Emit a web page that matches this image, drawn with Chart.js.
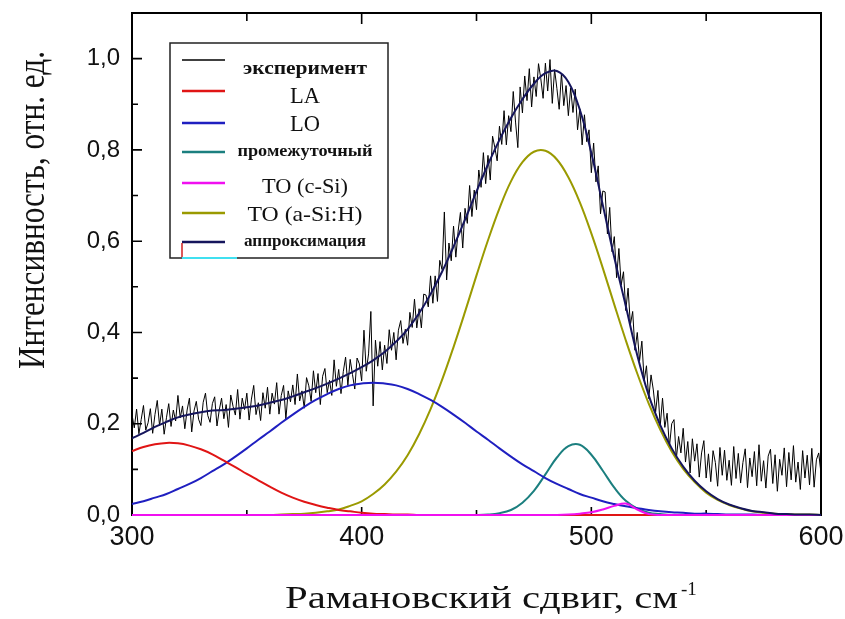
<!DOCTYPE html>
<html>
<head>
<meta charset="utf-8">
<script src="https://cdn.jsdelivr.net/npm/chart.js@4.4.0/dist/chart.umd.min.js"></script>
<style>
html, body { margin: 0; padding: 0; background: #fff; }
canvas { display: block; }
</style>
</head>
<body>
<canvas id="chart" width="845" height="619"></canvas>
<script>
// сетка для подгоночных кривых, см-1
const fitX = [300,305,310,315,320,325,330,335,340,345,350,355,360,365,370,375,380,385,390,395,
              400,405,410,415,420,425,430,435,440,445,450,455,460,465,470,475,480,485,490,495,
              500,505,510,515,520,525,530,535,540,545,550,555,560,565,570,575,580,585,590,595,600]

const laY = [0.140,0.149,0.155,0.158,0.157,0.152,0.144,0.133,0.119,0.105,0.090,0.076,0.062,0.049,0.038,0.029,0.022,0.016,0.011,0.008,
             0.005,0.003,0.002,0.001,0.001,0,0,0,0,0,0,0,0,0,0,0,0,0,0,0,
             0,0,0,0,0,0,0,0,0,0,0,0,0,0,0,0,0,0,0,0,0]

const loY = [0.024,0.030,0.038,0.046,0.057,0.068,0.081,0.096,0.111,0.128,0.146,0.165,0.183,0.202,0.220,0.237,0.252,0.265,0.276,0.284,
             0.288,0.290,0.288,0.284,0.276,0.265,0.252,0.237,0.220,0.202,0.183,0.165,0.146,0.128,0.111,0.096,0.081,0.068,0.057,0.046,
             0.038,0.030,0.024,0.019,0.015,0.011,0.008,0.006,0.005,0.003,0.003,0.002,0.001,0.001,0.001,0,0,0,0,0,0]

const interY = [0,0,0,0,0,0,0,0,0,0,0,0,0,0,0,0,0,0,0,0,
                0,0,0,0,0,0,0,0,0,0.000,0.000,0.001,0.004,0.011,0.027,0.053,0.089,0.126,0.151,0.154,
                0.132,0.097,0.060,0.031,0.014,0.005,0.002,0.000,0,0,0,0,0,0,0,0,0,0,0,0,0]

const toCY = [0,0,0,0,0,0,0,0,0,0,0,0,0,0,0,0,0,0,0,0,
              0,0,0,0,0,0,0,0,0,0,0,0,0,0,0,0,0,0,0.001,0.003,
              0.006,0.012,0.020,0.025,0.012,0.002,0,0,0,0,0,0,0,0,0,0,0,0,0,0,0]

const toAY = [0,0,0,0,0,0,0,0,0,0,0,0,0.000,0.001,0.002,0.003,0.005,0.008,0.012,0.020,
              0.030,0.046,0.067,0.095,0.131,0.177,0.232,0.296,0.368,0.445,0.525,0.602,0.672,0.731,0.773,0.796,0.798,0.779,0.740,0.685,
              0.617,0.541,0.461,0.383,0.310,0.244,0.187,0.139,0.101,0.072,0.049,0.033,0.022,0.014,0.008,0.005,0.003,0.002,0.001,0.001,0.000]

const sumY = [0.168,0.180,0.193,0.204,0.214,0.220,0.225,0.229,0.230,0.233,0.236,0.240,0.246,0.252,0.260,0.269,0.278,0.288,0.299,0.311,
              0.324,0.339,0.357,0.380,0.407,0.442,0.484,0.533,0.588,0.647,0.709,0.768,0.822,0.870,0.911,0.945,0.968,0.973,0.949,0.888,
              0.793,0.679,0.564,0.458,0.350,0.262,0.197,0.146,0.106,0.075,0.052,0.035,0.023,0.015,0.009,0.006,0.003,0.002,0.001,0.001,0.000]

// эксперимент: шаг 1 см-1, начиная с 300
const expStart = 300
const expY = [
  0.220,0.191,0.232,0.178,0.209,0.240,0.186,0.202,0.233,0.179,
  0.220,0.251,0.196,0.232,0.177,0.213,0.244,0.194,0.230,0.206,
  0.262,0.213,0.239,0.189,0.230,0.256,0.182,0.228,0.249,0.210,
  0.196,0.247,0.267,0.218,0.203,0.244,0.259,0.195,0.230,0.256,
  0.211,0.242,0.192,0.263,0.238,0.219,0.275,0.210,0.256,0.231,
  0.267,0.208,0.254,0.284,0.220,0.246,0.207,0.268,0.234,0.280,
  0.221,0.267,0.243,0.290,0.221,0.262,0.284,0.210,0.272,0.248,
  0.285,0.242,0.309,0.250,0.272,0.234,0.301,0.283,0.249,0.316,
  0.268,0.310,0.242,0.304,0.321,0.268,0.295,0.262,0.340,0.282,
  0.319,0.266,0.314,0.346,0.284,0.341,0.308,0.276,0.344,0.331,
  0.294,0.405,0.315,0.353,0.446,0.239,0.383,0.326,0.380,0.318,
  0.372,0.332,0.406,0.361,0.400,0.340,0.405,0.426,0.376,0.407,
  0.372,0.444,0.411,0.473,0.410,0.452,0.410,0.484,0.482,0.456,
  0.524,0.464,0.524,0.468,0.558,0.538,0.664,0.515,0.596,0.557,
  0.633,0.565,0.622,0.663,0.585,0.672,0.639,0.722,0.654,0.712,
  0.669,0.756,0.718,0.794,0.726,0.788,0.734,0.830,0.805,0.776,
  0.852,0.812,0.886,0.811,0.875,0.840,0.928,0.861,0.805,0.938,
  0.881,0.962,0.908,0.978,0.894,0.960,0.917,0.989,0.956,0.913,
  0.990,0.929,0.998,0.902,0.976,0.935,0.889,0.968,0.897,0.941,
  0.875,0.936,0.882,0.933,0.844,0.890,0.811,0.877,0.818,0.844,
  0.750,0.815,0.730,0.765,0.660,0.710,0.708,0.616,0.674,0.577,
  0.610,0.520,0.584,0.504,0.533,0.448,0.497,0.417,0.446,0.361,
  0.400,0.338,0.381,0.294,0.327,0.255,0.307,0.274,0.226,0.273,
  0.195,0.256,0.192,0.223,0.149,0.200,0.209,0.123,0.172,0.136,
  0.190,0.116,0.161,0.092,0.167,0.118,0.156,0.083,0.136,0.163,
  0.081,0.134,0.073,0.141,0.115,0.063,0.148,0.087,0.142,0.076,
  0.120,0.065,0.150,0.080,0.135,0.070,0.115,0.145,0.060,0.125,
  0.084,0.139,0.064,0.154,0.074,0.119,0.059,0.129,0.144,0.069,
  0.132,0.052,0.122,0.087,0.147,0.062,0.137,0.077,0.152,0.072,
  0.116,0.056,0.141,0.081,0.131,0.066,0.146,0.061,0.121,0.136,
  0.091]

const legendLabels = ['эксперимент', 'LA', 'LO', 'промежуточный', 'TO (c-Si)', 'TO (a-Si:H)', 'аппроксимация']
const colors = ['#000000', '#e01515', '#1f1fc0', '#1b7f7f', '#f010f0', '#9a9a00', '#15155c']

const xMajorTicks = [300, 400, 500, 600]
const xMinorTicks = [350, 450, 550]
const yMajorTicks = [0, 0.2, 0.4, 0.6, 0.8, 1.0]
const yMinorTicks = [0.1, 0.3, 0.5, 0.7, 0.9]

const serif = "'Liberation Serif', 'Times New Roman', serif"
const sans = "'Liberation Sans', Arial, sans-serif"

function pts(ys){
    return fitX.map((x, i) => ({x: x, y: ys[i]}))
}
const expPts = expY.map((v, i) => ({x: expStart + i, y: v}))

function curve(idx, ys, order){
    return {
        label: legendLabels[idx],
        data: pts(ys),
        borderColor: colors[idx],
        borderWidth: 2,
        pointRadius: 0,
        tension: 0.4,
        clip: 4,
        order: order
    }
}

// рамка, засечки, легенда и подписи осей
const decor = {
    id: 'decor',
    beforeDatasetsDraw(chart){
        const {ctx, chartArea: a, scales: {x, y}} = chart
        ctx.save()
        ctx.strokeStyle = '#000'
        ctx.lineWidth = 2
        ctx.strokeRect(a.left, a.top, a.right - a.left, a.bottom - a.top)
        ctx.lineWidth = 1.6
        ctx.beginPath()
        xMajorTicks.concat(xMinorTicks).forEach(v => {
            let px = x.getPixelForValue(v)
            let major = xMajorTicks.includes(v)
            ctx.moveTo(px, a.bottom); ctx.lineTo(px, a.bottom - (major ? 8 : 5))
            ctx.moveTo(px, a.top); ctx.lineTo(px, a.top + (major ? 11 : 8))
        })
        yMajorTicks.concat(yMinorTicks).forEach(v => {
            let py = y.getPixelForValue(v)
            let major = yMajorTicks.includes(v)
            ctx.moveTo(a.left, py); ctx.lineTo(a.left + (major ? 10 : 6), py)
        })
        ctx.stroke()
        ctx.restore()
    },
    afterDraw(chart){
        const ctx = chart.ctx
        ctx.save()

        // легенда
        ctx.fillStyle = '#fff'
        ctx.fillRect(170, 43, 218, 215)
        ctx.strokeStyle = '#222'
        ctx.lineWidth = 1.5
        ctx.strokeRect(170, 43, 218, 215)

        const lineY = [60, 91, 123, 152, 183, 213, 242]
        const textY = [69, 97, 125, 152, 187, 215, 242]
        const fonts = ['bold 18px ', '23px ', '23px ', 'bold 16px ', '22px ', '22px ', 'bold 17px ']
        const widths = [124, 30, 30, 135, 86, 115, 122]
        legendLabels.forEach((lbl, i) => {
            ctx.strokeStyle = colors[i]
            ctx.lineWidth = i == 0 ? 1.5 : 2.5
            ctx.beginPath()
            ctx.moveTo(182, lineY[i]); ctx.lineTo(225, lineY[i])
            ctx.stroke()

            ctx.font = fonts[i] + serif
            ctx.fillStyle = '#111'
            ctx.textAlign = 'center'
            ctx.textBaseline = 'middle'
            let w = ctx.measureText(lbl).width
            ctx.save()
            ctx.translate(305, textY[i])
            ctx.scale(widths[i] / w, 1)
            ctx.fillText(lbl, 0, 0)
            ctx.restore()
        })
        // следы под легендой, как на оригинале
        ctx.strokeStyle = '#d02020'
        ctx.lineWidth = 1.5
        ctx.beginPath(); ctx.moveTo(182, 243); ctx.lineTo(182, 257); ctx.stroke()
        ctx.strokeStyle = '#40e0f0'
        ctx.lineWidth = 2
        ctx.beginPath(); ctx.moveTo(182, 258); ctx.lineTo(237, 258); ctx.stroke()

        // подпись оси X
        ctx.fillStyle = '#111'
        ctx.textAlign = 'left'
        ctx.textBaseline = 'alphabetic'
        ctx.font = '31px ' + serif
        let t = 'Рамановский сдвиг, см'
        let w = ctx.measureText(t).width
        ctx.save()
        ctx.translate(285, 608)
        ctx.scale(393 / w, 1)
        ctx.fillText(t, 0, 0)
        ctx.restore()
        ctx.font = '19px ' + serif
        ctx.fillText('-1', 681, 595)

        // подпись оси Y
        ctx.font = '32px ' + serif
        ctx.textAlign = 'center'
        ctx.save()
        ctx.translate(44, 210)
        ctx.rotate(-Math.PI / 2)
        ctx.scale(1, 1.18)
        ctx.fillText('Интенсивность, отн. ед.', 0, 0, 318)
        ctx.restore()

        ctx.restore()
    }
}

let ctx = document.getElementById('chart').getContext('2d')
let chart = new Chart(ctx, {
    type: 'line',
    data: {
        datasets: [
            {
                label: legendLabels[0],
                data: expPts,
                borderColor: colors[0],
                borderWidth: 1,
                pointRadius: 0,
                tension: 0,
                order: 6
            },
            curve(1, laY, 2),
            curve(2, loY, 3),
            curve(3, interY, 4),
            curve(4, toCY, 1),
            curve(5, toAY, 5),
            curve(6, sumY, 0)
        ]
    },
    options: {
        responsive: false,
        devicePixelRatio: 1,
        animation: false,
        layout: {padding: {top: 13, right: 24, left: 0, bottom: 0}},
        scales: {
            x: {
                type: 'linear',
                min: 300,
                max: 600,
                ticks: {
                    stepSize: 100,
                    padding: 6,
                    maxRotation: 0,
                    color: '#111',
                    font: {family: sans, size: 27}
                },
                grid: {display: false, drawTicks: false},
                border: {display: false},
                afterFit: s => {
                    s.height = 104
                    s.paddingLeft = 0
                    s.paddingRight = 0
                }
            },
            y: {
                min: 0,
                max: 1.1,
                ticks: {
                    stepSize: 0.2,
                    includeBounds: false,
                    padding: 12,
                    color: '#111',
                    font: {family: sans, size: 24},
                    callback: v => v.toFixed(1).replace('.', ',')
                },
                grid: {display: false, drawTicks: false},
                border: {display: false},
                afterFit: s => {
                    s.width = 132
                    s.paddingTop = 0
                    s.paddingBottom = 0
                }
            }
        },
        plugins: {
            legend: {display: false},
            tooltip: {enabled: false}
        }
    },
    plugins: [decor]
});
</script>
</body>
</html>
